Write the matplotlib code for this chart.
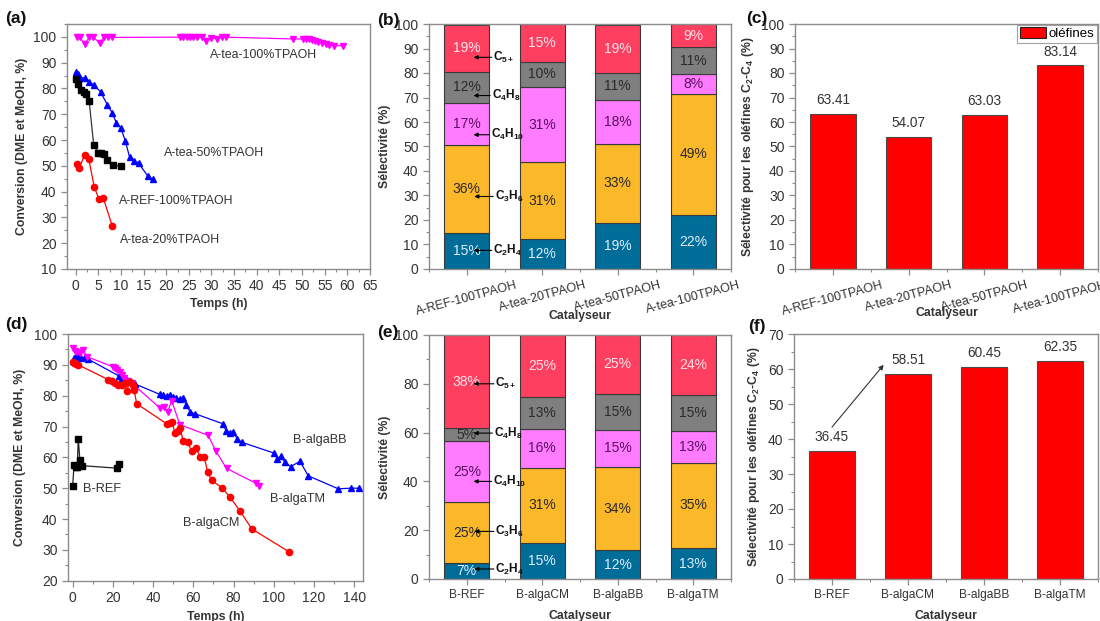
import matplotlib
matplotlib.use("Agg")
import matplotlib.pyplot as plt
from matplotlib.ticker import MultipleLocator
import numpy as np

plt.rcParams['font.family'] = ['Liberation Sans', 'DejaVu Sans']
plt.rcParams['mathtext.fontset'] = 'custom'
plt.rcParams['mathtext.rm'] = 'Liberation Sans'
plt.rcParams['mathtext.bf'] = 'Liberation Sans:bold'
plt.rcParams['mathtext.it'] = 'Liberation Sans:italic'

# ---------------- data: panel (a) ----------------
a_ref_t = [0, 0.5, 1.1, 1.8, 2.4, 3.0, 4.0, 5.0, 5.7, 6.3, 7.0, 8.2, 10.1]
a_ref_y = [83.7, 81.8, 79.6, 78.8, 78.0, 75.0, 58.0, 55.0, 54.8, 54.7, 52.2, 50.3, 49.8]
a_50_t = [0.15, 0.5, 0.9, 2.0, 3.0, 4.1, 5.5, 7.0, 8.1, 9.0, 10.0, 11.0, 11.9, 13.0, 13.9, 15.9, 17.1]
a_50_y = [86.3, 85.8, 84.1, 84.1, 82.6, 81.2, 78.7, 73.7, 70.5, 66.6, 64.7, 59.5, 53.5, 52.0, 51.1, 46.1, 44.8]
a_20_t = [0.3, 0.8, 2.0, 2.9, 4.1, 5.1, 6.1, 8.1]
a_20_y = [50.6, 49.2, 54.2, 52.7, 41.9, 37.3, 37.6, 26.6]
a_100_t = [0.4, 0.9, 2.0, 3.0, 3.9, 5.4, 6.2, 7.1, 8.0,
           23.0, 23.7, 24.5, 25.2, 26.0, 26.7, 27.8, 28.9, 30.0, 31.2, 32.3, 33.2,
           48.0, 50.1, 50.8, 51.5, 52.2, 52.9, 53.6, 54.5, 55.2, 56.0, 57.0, 59.1]
a_100_y = [99.8, 99.8, 97.2, 99.8, 99.8, 97.6, 99.8, 99.8, 99.8,
           99.9, 99.9, 99.9, 99.9, 99.9, 99.9, 99.9, 98.4, 99.7, 99.2, 99.8, 99.9,
           99.2, 99.2, 99.2, 99.0, 98.7, 98.4, 98.1, 97.8, 97.4, 97.0, 96.6, 96.6]

# ---------------- data: panel (d) ----------------
b_ref_t = [0, 0.7, 1.5, 2.3, 2.8, 3.6, 4.8, 21.9, 23.0]
b_ref_y = [50.6, 57.5, 57.0, 57.0, 66.1, 59.1, 57.3, 56.5, 57.7]
b_cm_t = [0, 0.8, 1.8, 2.8, 17.7, 19.4, 21.0, 22.7, 24.4, 26.0, 26.8, 28.5, 30.1, 30.6, 31.8,
          46.7, 48.4, 49.5, 50.8, 52.5, 53.3, 55.0, 57.2, 59.1, 61.3, 63.3, 65.4, 67.1, 69.1,
          74.1, 78.2, 83.2, 89.0, 107.7]
b_cm_y = [90.8, 90.5, 90.2, 90.0, 85.2, 84.9, 84.0, 83.5, 83.4, 84.0, 81.6, 84.4, 83.4, 81.8, 77.4,
          70.9, 71.1, 71.4, 68.0, 68.4, 69.5, 65.4, 64.9, 62.0, 63.1, 60.2, 60.2, 55.2, 52.5,
          50.2, 47.1, 42.6, 36.8, 29.3]
b_tm_t = [0.3, 1.2, 2.0, 3.6, 5.3, 7.0, 20.2, 21.0, 21.9, 23.3, 24.5, 25.4, 27.6, 29.3,
          43.4, 45.5, 47.2, 49.2, 53.3, 67.4, 71.2, 76.5, 91.1, 92.7]
b_tm_y = [95.4, 94.6, 94.3, 93.8, 94.8, 92.7, 89.3, 89.1, 88.3, 87.6, 86.6, 85.8, 84.6, 84.1,
          76.0, 76.3, 74.7, 78.4, 70.6, 67.1, 62.0, 56.4, 51.6, 50.7]
b_bb_t = [0, 0.7, 1.5, 2.8, 4.3, 6.1, 7.8, 23.0, 24.4, 26.8, 31.0,
          43.4, 45.1, 46.7, 48.4, 49.7, 51.4, 53.3, 54.7, 56.5, 58.5, 60.6,
          74.6, 76.2, 78.2, 79.8, 81.8, 84.0,
          100.0, 101.7, 103.4, 105.5, 108.3, 113.0, 117.1, 132.0, 138.2, 142.5]
b_bb_y = [91.1, 92.2, 92.5, 92.9, 92.2, 92.4, 91.8, 86.4, 85.6, 85.1, 83.8,
          80.4, 80.2, 79.9, 80.2, 79.6, 79.1, 78.9, 79.3, 76.9, 74.6, 74.2,
          70.9, 68.7, 68.0, 68.2, 66.0, 64.9,
          61.4, 59.5, 60.3, 58.4, 57.0, 58.7, 54.0, 49.8, 50.0, 50.0]

# ---------------- data: panels (b), (e) ----------------
components = ['C2H4', 'C3H6', 'C4H10', 'C4H8', 'C5+']
comp_labels = [r'$\mathbf{C_2H_4}$', r'$\mathbf{C_3H_6}$', r'$\mathbf{C_4H_{10}}$',
               r'$\mathbf{C_4H_8}$', r'$\mathbf{C_{5+}}$']
cat_A = ['A-REF-100TPAOH', 'A-tea-20TPAOH', 'A-tea-50TPAOH', 'A-tea-100TPAOH']
sel_A = {
    'C2H4':  [14.7, 12.4, 18.6, 22.1],
    'C3H6':  [35.8, 31.1, 32.6, 49.4],
    'C4H10': [17.4, 30.8, 17.8, 8.0],
    'C4H8':  [12.4, 10.2, 11.2, 11.2],
    'C5+':   [19.4, 15.4, 19.4, 9.2],
}
cat_B = ['B-REF', 'B-algaCM', 'B-algaBB', 'B-algaTM']
sel_B = {
    'C2H4':  [6.6, 14.8, 11.8, 12.6],
    'C3H6':  [24.8, 30.7, 34.1, 35.1],
    'C4H10': [25.2, 16.0, 15.2, 13.1],
    'C4H8':  [5.2, 13.0, 14.6, 14.6],
    'C5+':   [38.2, 25.4, 24.6, 24.4],
}

# ---------------- data: panels (c), (f) ----------------
olef_A = [63.41, 54.07, 63.03, 83.14]
olef_B = [36.45, 58.51, 60.45, 62.35]

# ---------------- styling ----------------
comp_colors = ['#006C98', '#FBB829', '#FF7BFF', '#7F7F7F', '#FF3F5F']
comp_txt = ['#DDEEFF', '#2A2A2A', '#5A1060', '#2A2A2A', '#FFE4EC']
spine_col = '#8C8C8C'
txt_col = '#333333'
lab_fs = 8.8

fig = plt.figure(figsize=(11, 6.21), dpi=100)
W, H = 1100.0, 621.0


def add_ax(l, r, t, b):
    return fig.add_axes([l / W, 1 - b / H, (r - l) / W, (b - t) / H])


ax_a = add_ax(67, 370, 24, 269)
ax_d = add_ax(68, 363, 334, 580.7)
ax_b = add_ax(429, 731, 24, 269)
ax_e = add_ax(429, 731, 335, 579)
ax_c = add_ax(795, 1098, 24, 269)
ax_f = add_ax(794, 1098, 334, 579)


def style(ax):
    for s in ax.spines.values():
        s.set_color(spine_col)
        s.set_linewidth(1.0)
    ax.tick_params(which='both', direction='out', color=spine_col, labelsize=10,
                   labelcolor=txt_col, top=False, right=False)
    ax.tick_params(which='major', length=4, width=0.9)
    ax.tick_params(which='minor', length=2, width=0.8)


lw = 0.9
ms = 4.5
# ---- (a)
ax = ax_a
ax.plot(a_100_t, a_100_y, '-v', color='#FF00FF', lw=lw, ms=ms)
ax.plot(a_50_t, a_50_y, '-^', color='#0000FF', lw=lw, ms=ms)
ax.plot(a_ref_t, a_ref_y, '-s', color='#333333', lw=lw, ms=ms - 0.5,
        markerfacecolor='k', markeredgecolor='k')
ax.plot(a_20_t, a_20_y, '-o', color='#FF0000', lw=lw, ms=ms)
ax.set_xlim(-1.9, 65)
ax.set_ylim(10, 105)
ax.xaxis.set_major_locator(MultipleLocator(5))
ax.xaxis.set_minor_locator(MultipleLocator(2.5))
ax.yaxis.set_major_locator(MultipleLocator(10))
ax.yaxis.set_minor_locator(MultipleLocator(5))
style(ax)
ax.set_xlabel('Temps (h)', fontsize=lab_fs, fontweight='bold', color=txt_col, labelpad=3)
ax.set_ylabel('Conversion (DME et MeOH, %)', fontsize=lab_fs, fontweight='bold', color=txt_col, labelpad=4)
for txt, x, y in [('A-tea-100%TPAOH', 29.6, 93.1), ('A-tea-50%TPAOH', 19.6, 55.0),
                  ('A-REF-100%TPAOH', 9.6, 36.2), ('A-tea-20%TPAOH', 9.8, 21.3)]:
    ax.text(x, y, txt, fontsize=8.9, color=txt_col, va='center', ha='left')

# ---- (d)
ax = ax_d
ax.plot(b_bb_t, b_bb_y, '-^', color='#0000FF', lw=lw, ms=ms)
ax.plot(b_tm_t, b_tm_y, '-v', color='#FF00FF', lw=lw, ms=ms)
ax.plot(b_cm_t, b_cm_y, '-o', color='#FF0000', lw=lw, ms=ms)
ax.plot(b_ref_t, b_ref_y, '-s', color='#222222', lw=lw, ms=ms - 0.5, markerfacecolor='k', markeredgecolor='k')
ax.set_xlim(-2.3, 144.3)
ax.set_ylim(20, 100)
ax.xaxis.set_major_locator(MultipleLocator(20))
ax.xaxis.set_minor_locator(MultipleLocator(10))
ax.yaxis.set_major_locator(MultipleLocator(10))
ax.yaxis.set_minor_locator(MultipleLocator(5))
style(ax)
ax.set_xlabel('Temps (h)', fontsize=lab_fs, fontweight='bold', color=txt_col, labelpad=4)
ax.set_ylabel('Conversion (DME et MeOH, %)', fontsize=lab_fs, fontweight='bold', color=txt_col, labelpad=6)
for txt, x, y in [('B-REF', 5.0, 49.6), ('B-algaBB', 109.6, 65.7),
                  ('B-algaTM', 98.1, 46.6), ('B-algaCM', 54.7, 38.7)]:
    ax.text(x, y, txt, fontsize=9.2, color=txt_col, va='center', ha='left')


# ---- stacked bars (b), (e)
def stacked(ax, cats, sel, arrows, rot):
    x = np.arange(len(cats))
    bottom = np.zeros(len(cats))
    for i, comp in enumerate(components):
        vals = np.array(sel[comp])
        ax.bar(x, vals, 0.6, bottom=bottom, color=comp_colors[i], edgecolor='#3A3A3A', linewidth=0.8, zorder=2)
        for xi, v, b in zip(x, vals, bottom):
            ax.text(xi, b + v / 2, f'{int(round(v))}%', ha='center', va='center',
                    fontsize=10, color=comp_txt[i], zorder=4)
        bottom = bottom + vals
    for (lab, (hx, hy), (tx, ty)) in zip(comp_labels, arrows[0], arrows[1]):
        ax.annotate('', xy=(hx, hy), xytext=(tx, ty),
                    arrowprops=dict(arrowstyle='-|>', color='black', lw=0.8, mutation_scale=6,
                                    shrinkA=0, shrinkB=0), zorder=5)
        ax.text(tx + 0.02, ty, lab, fontsize=8.6, color='#111111', ha='left', va='center', zorder=5)
    ax.set_xlim(-0.5, 3.48)
    ax.set_ylim(0, 100)
    ax.set_xticks(x)
    ax.set_xticks(np.arange(-0.5, 3.6, 0.5), minor=True)
    style(ax)
    if rot:
        ax.set_xticklabels(cats, rotation=15, ha='center', fontsize=9)
    else:
        ax.set_xticklabels(cats, fontsize=8.6)
    ax.set_ylabel('Sélectivité (%)', fontsize=lab_fs, fontweight='bold', color=txt_col, labelpad=3)


arrows_b = ([(0.09, 7.6), (0.1, 29.6), (0.09, 54.8), (0.09, 70.8), (0.09, 86.4)],
            [(0.33, 7.6), (0.35, 29.6), (0.3, 54.8), (0.31, 70.8), (0.33, 86.4)])
stacked(ax_b, cat_A, sel_A, arrows_b, True)
ax_b.yaxis.set_major_locator(MultipleLocator(10))
ax_b.yaxis.set_minor_locator(MultipleLocator(5))
ax_b.set_xlabel('Catalyseur', fontsize=lab_fs, fontweight='bold', color=txt_col, labelpad=-6)

arrows_e = ([(0.1, 4.1), (0.1, 19.5), (0.09, 40.0), (0.09, 59.8), (0.09, 80.0)],
            [(0.36, 4.1), (0.36, 19.5), (0.33, 40.0), (0.34, 59.8), (0.36, 80.0)])
stacked(ax_e, cat_B, sel_B, arrows_e, False)
ax_e.yaxis.set_major_locator(MultipleLocator(20))
ax_e.yaxis.set_minor_locator(MultipleLocator(10))
ax_e.set_xlabel('Catalyseur', fontsize=lab_fs, fontweight='bold', color=txt_col, labelpad=6)


# ---- olefin bars (c), (f)
def olef(ax, cats, vals, rot, ymax, off):
    x = np.arange(len(cats))
    ax.bar(x, vals, 0.6, color='#FF0000', edgecolor='#4A4A4A', linewidth=0.8, zorder=2, label='oléfines')
    for xi, v in zip(x, vals):
        ax.text(xi, v + off, f'{v:.2f}', ha='center', va='center', fontsize=9.8, color=txt_col)
    ax.set_xlim(-0.5, 3.49)
    ax.set_ylim(0, ymax)
    ax.set_xticks(x)
    ax.set_xticks(np.arange(-0.5, 3.6, 0.5), minor=True)
    ax.yaxis.set_major_locator(MultipleLocator(10))
    ax.yaxis.set_minor_locator(MultipleLocator(5))
    style(ax)
    if rot:
        ax.set_xticklabels(cats, rotation=15, ha='center', fontsize=9)
    else:
        ax.set_xticklabels(cats, fontsize=8.6)
    ax.set_ylabel(r'Sélectivité pour les oléfines C$_\mathbf{2}$-C$_\mathbf{4}$ (%)',
                  fontsize=lab_fs, fontweight='bold', color=txt_col, labelpad=4)


olef(ax_c, cat_A, olef_A, True, 100, 5.6)
ax_c.set_xlabel('Catalyseur', fontsize=lab_fs, fontweight='bold', color=txt_col, labelpad=-8)
leg = ax_c.legend(loc='upper right', fontsize=9.5, frameon=True, fancybox=False,
                  borderpad=0.2, handlelength=2.0, handleheight=0.9, borderaxespad=0.05,
                  handletextpad=0.2)
leg.get_frame().set_edgecolor('#8C8C8C')
leg.get_frame().set_linewidth(0.8)
for p in leg.get_patches():
    p.set_edgecolor('#222222')

olef(ax_f, cat_B, olef_B, False, 70, 4.0)
ax_f.set_xlabel('Catalyseur', fontsize=lab_fs, fontweight='bold', color=txt_col, labelpad=6)
ax_f.annotate('', xy=(0.68, 61.2), xytext=(0.0, 43.4),
              arrowprops=dict(arrowstyle='-|>', color='#333333', lw=0.8, mutation_scale=7,
                              shrinkA=0, shrinkB=0))

# ---- panel labels
for lab, x, y in [('(a)', 5, 18), ('(b)', 377, 20), ('(c)', 746, 18),
                  ('(d)', 5, 325), ('(e)', 377, 332), ('(f)', 748, 327)]:
    fig.text(x / W, 1 - y / H, lab, fontsize=12.5, fontweight='bold', color='#111111',
             ha='left', va='center')

fig.savefig('out.png', dpi=100)
